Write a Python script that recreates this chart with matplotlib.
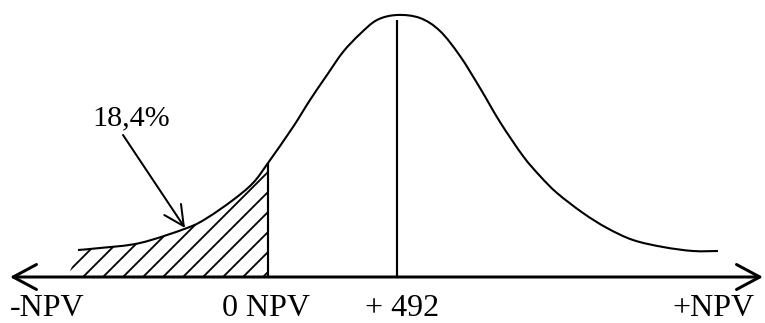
import matplotlib.pyplot as plt
from matplotlib.path import Path
from matplotlib.patches import PathPatch
import numpy as np

# curve (horizontal position, height above the axis)
curve_x = [78, 100, 140, 187, 207, 233, 253, 268, 293, 310, 327, 343, 360, 377,
           397, 420, 440, 460, 480, 500, 523, 540, 557, 583, 607, 633, 663, 693, 718]
curve_y = [27, 29, 34, 49, 59, 77, 94, 114, 150, 177, 202, 225, 243, 257,
           262, 259, 246, 221, 189, 155, 121, 101, 84, 64, 49, 37, 30, 26, 26]

zero_npv = 268
mean_npv = 397
hatch_left = 68
axis_left, axis_right = 10, 763

tick_pos = [47, 266, 402, 713]
tick_labels = ["-NPV", "0 NPV", "+ 492", "+NPV"]

share_label = "18,4%"
share_text_pos = (131, 159)
share_arrow_start = (123, 142)
share_point = (185, 49)

DPI = 120  # hatch cell = dpi pixels, so this sets the hatch spacing

plt.rcParams['font.family'] = ['Liberation Serif', 'DejaVu Serif']
plt.rcParams['hatch.linewidth'] = 1.1


def smooth_path(xs, ys):
    # catmull-rom through the read points, drawn as cubic beziers
    pts = np.column_stack([xs, ys]).astype(float)
    verts = [pts[0]]
    codes = [Path.MOVETO]
    n = len(pts)
    for i in range(n - 1):
        p0 = pts[max(i - 1, 0)]
        p1 = pts[i]
        p2 = pts[i + 1]
        p3 = pts[min(i + 2, n - 1)]
        verts += [p1 + (p2 - p0) / 6, p2 - (p3 - p1) / 6, p2]
        codes += [Path.CURVE4] * 3
    return verts, codes


fig = plt.figure(figsize=(765 / DPI, 323 / DPI), dpi=DPI)
ax = fig.add_axes([0, 0, 1, 1])
ax.set_xlim(0, 765)
ax.set_ylim(-46, 277)
ax.axis('off')

cx = np.array(curve_x)
cy = np.array(curve_y)

verts, codes = smooth_path(cx, cy)
ax.add_patch(PathPatch(Path(verts, codes), facecolor='none', edgecolor='black',
                       lw=1.25, capstyle='butt'))

# hatched area left of zero NPV
mask = cx <= zero_npv
hv, hc = smooth_path(cx[mask], cy[mask])
hv += [(zero_npv, 0), (hatch_left, 0), hv[0]]
hc += [Path.LINETO, Path.LINETO, Path.CLOSEPOLY]
ax.add_patch(PathPatch(Path(hv, hc), facecolor='none', edgecolor='black',
                       hatch='//', lw=0))
ax.vlines(zero_npv, 0, cy[mask][-1], color='black', lw=1.3)

# line at the expected value
ax.vlines(mean_npv, 0, cy.max() - 5, color='black', lw=1.3)

# horizontal axis with open arrows at both ends
ax.annotate('', xy=(axis_left, 0), xytext=(axis_right, 0),
            arrowprops=dict(arrowstyle='<->,head_length=14,head_width=7.5',
                            mutation_scale=1, lw=1.8, color='black',
                            shrinkA=0, shrinkB=0))

for pos, lab in zip(tick_pos, tick_labels):
    ax.text(pos, -31, lab, ha='center', va='center', fontsize=19.2)

ax.text(*share_text_pos, share_label, ha='center', va='center', fontsize=18)
ax.annotate('', xy=share_point, xytext=share_arrow_start,
            arrowprops=dict(arrowstyle='->,head_length=12,head_width=6',
                            mutation_scale=1, lw=1.2, color='black',
                            shrinkA=0, shrinkB=0))

fig.savefig('out.png', dpi=DPI)
